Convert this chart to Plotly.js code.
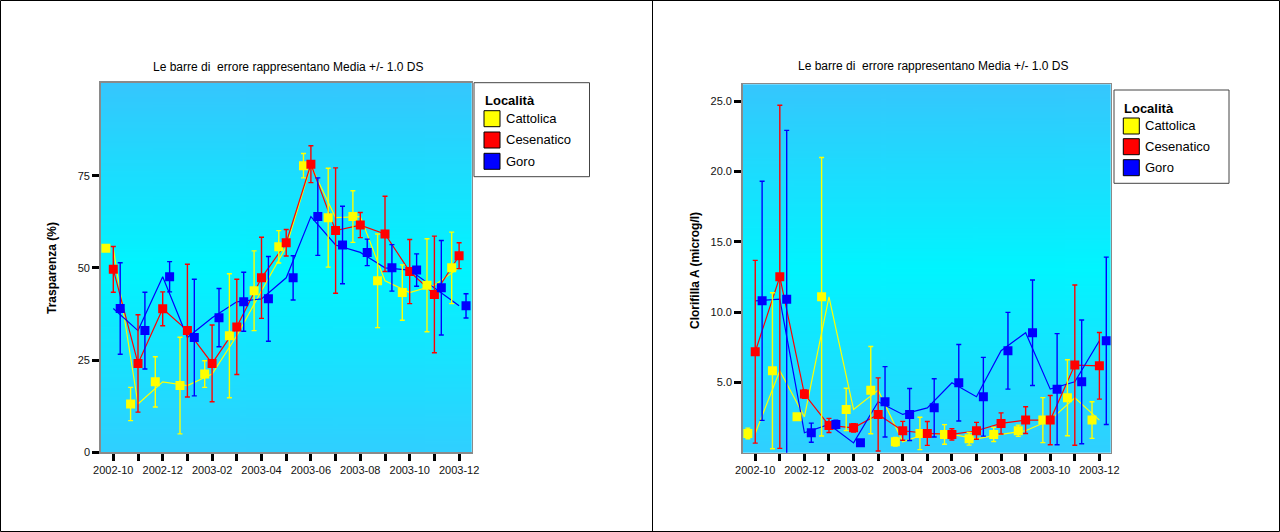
<!DOCTYPE html>
<html>
<head>
<meta charset="utf-8">
<script src="https://cdn.plot.ly/plotly-3.0.1.min.js"></script>
<style>
html,body{margin:0;padding:0;background:#fff;}
#chart{width:1280px;height:532px;}
</style>
</head>
<body>
<div id="chart"></div>
<script>
// ---------- data ----------
const months = ['2002-10','2002-11','2002-12','2003-01','2003-02','2003-03','2003-04','2003-05','2003-06','2003-07','2003-08','2003-09','2003-10','2003-11','2003-12'];
const tickLabels = ['2002-10','','2002-12','','2003-02','','2003-04','','2003-06','','2003-08','','2003-10','','2003-12'];
const seriesNames = ['Cattolica','Cesenatico','Goro'];
const seriesColors = ['#ffff00','#ff0000','#0000ff'];

const traspCattolica   = [55.3, 13.1, 19.1, 18.1, 21.2, 31.6, 43.8, 55.7, 77.7, 63.6, 63.9, 46.5, 43.3, 45.3, 50.0];
const traspCattolicaSd = [0, 4.5, 6.8, 13.1, 3.6, 16.8, 10.8, 4.4, 3.3, 13.4, 7.0, 12.7, 7.5, 12.6, 9.7];
const traspCesenatico   = [49.6, 24.1, 38.9, 33.0, 24.1, 34.0, 47.3, 56.8, 78.1, 60.1, 61.6, 59.2, 49.0, 42.8, 53.3];
const traspCesenaticoSd = [6.2, 13.2, 4.6, 18.0, 10.4, 12.9, 11.0, 3.6, 5.0, 17.0, 3.4, 10.2, 8.7, 15.8, 3.5];
const traspGoro   = [39.0, 33.0, 47.6, 31.1, 36.5, 40.8, 41.6, 47.3, 63.9, 56.2, 54.2, 50.0, 49.4, 44.6, 39.7];
const traspGoroSd = [12.4, 10.4, 4.1, 15.8, 7.9, 8.0, 11.5, 6.0, 10.5, 10.5, 3.6, 6.3, 4.4, 12.8, 3.3];

const chlCattolica   = [1.37, 5.83, 2.55, 11.09, 3.08, 4.45, 0.78, 1.37, 1.30, 0.99, 1.30, 1.56, 2.32, 3.91, 2.32];
const chlCattolicaSd = [0.38, 5.55, 0, 9.9, 1.5, 3.1, 0.3, 1.15, 0.7, 0.45, 0.5, 0.4, 1.6, 2.7, 1.3];
const chlCesenatico   = [7.18, 12.51, 4.17, 1.94, 1.77, 2.72, 1.56, 1.37, 1.30, 1.56, 2.08, 2.32, 2.32, 6.23, 6.18];
const chlCesenaticoSd = [6.5, 12.2, 0.3, 0.5, 0.3, 2.6, 0.67, 0.85, 0.4, 0.6, 0.75, 0.95, 1.75, 5.7, 2.37];
const chlGoro   = [10.80, 10.92, 1.42, 2.01, 0.70, 3.62, 2.72, 3.19, 4.97, 3.98, 7.25, 8.53, 4.52, 5.04, 7.96];
const chlGoroSd = [8.5, 12.0, 0.68, 0.3, 0, 2.5, 1.85, 2.07, 2.72, 2.8, 2.73, 3.75, 3.95, 4.4, 5.95];

const chartTitle = 'Le barre di\u00a0 errore rappresentano Media +/- 1.0 DS';
const yTitleLeft = 'Trasparenza (%)';
const yTitleRight = 'Clorifilla A (microg/l)';
const legendTitle = 'Località';

// ---------- layout helpers ----------
const W = 1280, H = 532;
const px = x => x / W;
const py = y => 1 - y / H;
const FONT = 'Liberation Sans, Arial, sans-serif';
const idx = months.map((m, i) => i);
const dodge = [-0.3, 0, 0.28];

// gradient background image
function gradientURL(){
  const c = document.createElement('canvas');
  c.width = 4; c.height = 256;
  const ctx = c.getContext('2d');
  const g = ctx.createLinearGradient(0, 0, 0, 256);
  g.addColorStop(0, '#36c6fd');
  g.addColorStop(0.5, '#00f5ff');
  g.addColorStop(1, '#30cfff');
  ctx.fillStyle = g;
  ctx.fillRect(0, 0, 4, 256);
  return c.toDataURL('image/png');
}
const grad = gradientURL();

const panels = [
  {xa:'x', ya:'y', box:[100.7, 82.7, 471.7, 452.3],
   data:[traspCattolica, traspCesenatico, traspGoro],
   sd:[traspCattolicaSd, traspCesenaticoSd, traspGoroSd]},
  {xa:'x2', ya:'y2', box:[742.7, 84.3, 1110.7, 452.7],
   data:[chlCattolica, chlCesenatico, chlGoro],
   sd:[chlCattolicaSd, chlCesenaticoSd, chlGoroSd]}
];

const traces = [];
panels.forEach(p => {
  p.data.forEach((vals, s) => {
    traces.push({
      type:'scatter', mode:'lines', x: idx, y: vals, xaxis:p.xa, yaxis:p.ya,
      line:{color: seriesColors[s], width:1.2}, hoverinfo:'skip', showlegend:false
    });
  });
  p.data.forEach((vals, s) => {
    traces.push({
      type:'scatter', mode:'markers', x: idx.map(i => i + dodge[s]), y: vals,
      xaxis:p.xa, yaxis:p.ya, name: seriesNames[s], showlegend:false,
      marker:{symbol:'square', size:9, color: seriesColors[s], line:{width:0}},
      error_y:{type:'data', array: p.sd[s], visible:true, color: seriesColors[s], thickness:1.4, width:2.5}
    });
  });
});

function xAxis(box){
  return {
    domain:[px(box[0]), px(box[2])], range:[-0.51, 14.51],
    tickmode:'array', tickvals: idx, ticktext: tickLabels,
    ticks:'outside', ticklen:7, tickwidth:3, tickcolor:'#000',
    showline:true, linecolor:'#8a8a8a', linewidth:1.5, mirror:true,
    showgrid:false, zeroline:false, fixedrange:true,
    tickfont:{family:FONT, size:11, color:'#111'}
  };
}
function yAxis(box, range, vals, text){
  return {
    domain:[py(box[3]), py(box[1])], range: range,
    tickmode:'array', tickvals: vals, ticktext: text,
    ticks:'outside', ticklen:7, tickwidth:3, tickcolor:'#000',
    showline:true, linecolor:'#8a8a8a', linewidth:1.5, mirror:true,
    showgrid:false, zeroline:false, fixedrange:true,
    tickfont:{family:FONT, size:11, color:'#111'}
  };
}

const xa1 = xAxis(panels[0].box); xa1.anchor = 'y';
const ya1 = yAxis(panels[0].box, [0, 100.2], [0,25,50,75], ['0','25','50','75']); ya1.anchor = 'x';
const xa2 = xAxis(panels[1].box); xa2.anchor = 'y2'; xa2.range = [-0.51, 14.46];
const ya2 = yAxis(panels[1].box, [0, 26.2], [5,10,15,20,25], ['5.0','10.0','15.0','20.0','25.0']); ya2.anchor = 'x2';

const images = panels.map(p => ({
  source: grad, xref:'paper', yref:'paper',
  x: px(p.box[0]), y: py(p.box[1]),
  sizex: (p.box[2]-p.box[0])/W, sizey: (p.box[3]-p.box[1])/H,
  xanchor:'left', yanchor:'top', sizing:'stretch', layer:'below'
}));

const shapes = [
  {type:'rect', xref:'paper', yref:'paper', x0:px(0.5), x1:px(1279.5), y0:py(531.5), y1:py(0.5), line:{color:'#000', width:1}},
  {type:'line', xref:'paper', yref:'paper', x0:px(652.5), x1:px(652.5), y0:py(531.5), y1:py(0.5), line:{color:'#000', width:1}}
];
const annotations = [
  {text: chartTitle, x: px(287.5), y: py(66.5), xref:'paper', yref:'paper', showarrow:false, xanchor:'center', yanchor:'middle', font:{family:FONT, size:12, color:'#000'}},
  {text: chartTitle, x: px(933), y: py(66), xref:'paper', yref:'paper', showarrow:false, xanchor:'center', yanchor:'middle', font:{family:FONT, size:12, color:'#000'}},
  {text: '<b>'+yTitleLeft+'</b>', x: px(52), y: py(268), xref:'paper', yref:'paper', showarrow:false, textangle:-90, xanchor:'center', yanchor:'middle', font:{family:FONT, size:12, color:'#000'}},
  {text: '<b>'+yTitleRight+'</b>', x: px(695), y: py(271), xref:'paper', yref:'paper', showarrow:false, textangle:-90, xanchor:'center', yanchor:'middle', font:{family:FONT, size:12, color:'#000'}}
];

// legends
const legends = [
  {box:[474, 82.7, 589.5, 176.7], titleY:100.7, left:484, rows:[118.7, 140, 161.3]},
  {box:[1114, 90, 1229, 183.3], titleY:108.3, left:1123.3, rows:[126, 146.7, 167.7]}
];
legends.forEach(L => {
  shapes.push({type:'rect', xref:'paper', yref:'paper', x0:px(L.box[0]), x1:px(L.box[2]), y0:py(L.box[3]), y1:py(L.box[1]), fillcolor:'#fff', line:{color:'#444', width:1}});
  annotations.push({text:'<b>'+legendTitle+'</b>', x:px(L.left-1), y:py(L.titleY), xref:'paper', yref:'paper', showarrow:false, xanchor:'left', yanchor:'middle', font:{family:FONT, size:13, color:'#000'}});
  seriesNames.forEach((n, s) => {
    const cy = L.rows[s];
    shapes.push({type:'rect', xref:'paper', yref:'paper', x0:px(L.left), x1:px(L.left+16), y0:py(cy+8), y1:py(cy-8), fillcolor:seriesColors[s], line:{color:'#000', width:1}});
    annotations.push({text:n, x:px(L.left+20), y:py(cy), xref:'paper', yref:'paper', showarrow:false, xanchor:'left', yanchor:'middle', font:{family:FONT, size:13, color:'#000'}});
  });
});

const layout = {
  width: W, height: H,
  margin:{l:0, r:0, t:0, b:0, pad:0, autoexpand:false},
  paper_bgcolor:'#fff', plot_bgcolor:'rgba(0,0,0,0)',
  showlegend:false,
  xaxis: xa1, yaxis: ya1, xaxis2: xa2, yaxis2: ya2,
  images: images, shapes: shapes, annotations: annotations,
  font:{family:FONT}
};

Plotly.newPlot('chart', traces, layout, {displayModeBar:false, staticPlot:true});
</script>
</body>
</html>
